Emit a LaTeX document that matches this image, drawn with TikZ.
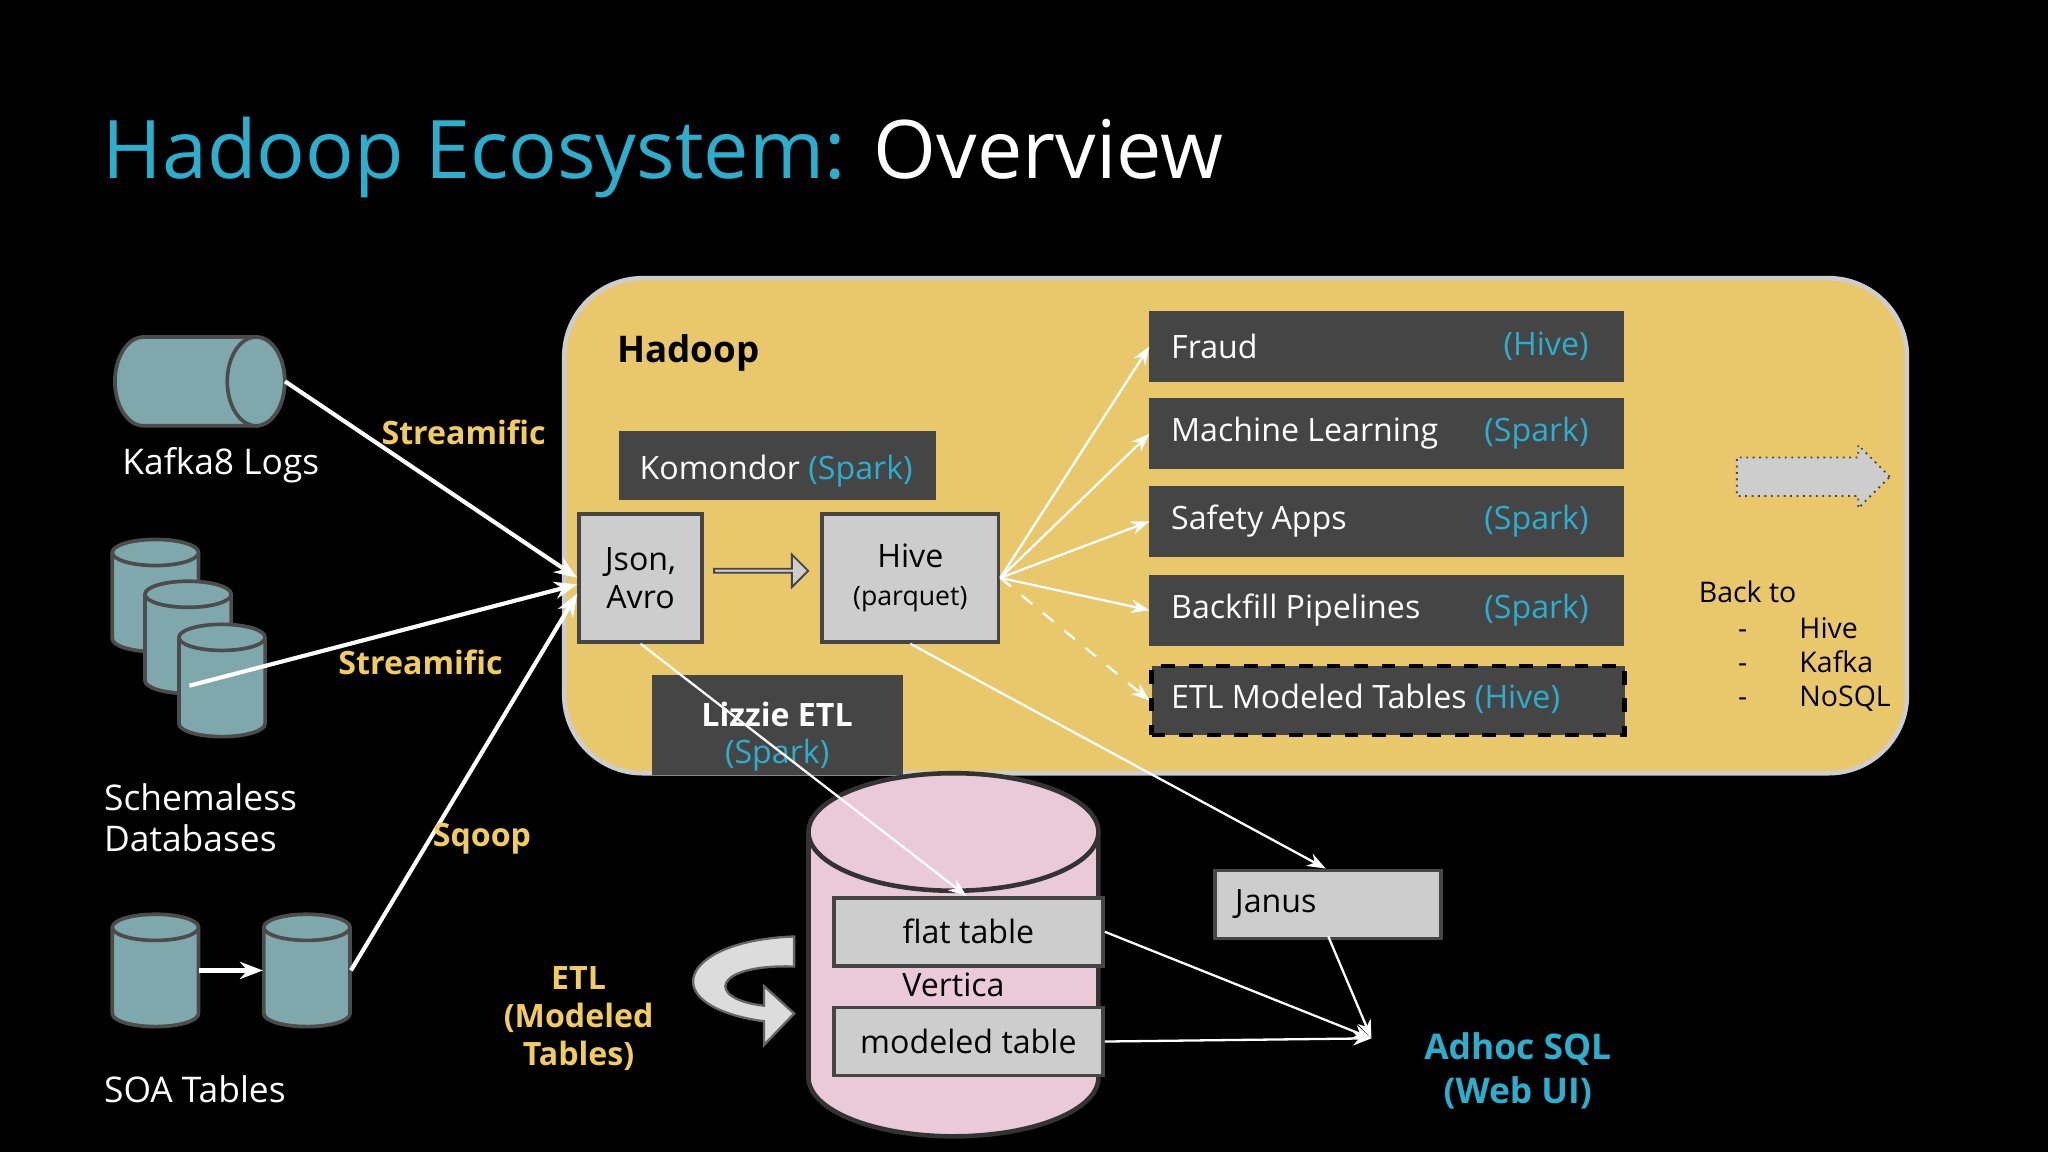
\documentclass[tikz,border=0pt]{standalone}
\usepackage{fontspec}
\setmainfont{Open Sans}
\usetikzlibrary{shapes.arrows,arrows.meta}
\definecolor{cyanT}{HTML}{2AAFCF}
\definecolor{hadoopY}{HTML}{E9C76B}
\definecolor{dgray}{HTML}{454545}
\definecolor{lgray}{HTML}{CDCDCD}
\definecolor{tealC}{HTML}{7FA8AC}
\definecolor{pinkV}{HTML}{EACAD9}
\definecolor{yel}{HTML}{F2CD5C}
\tikzset{
  x=0.01cm,y=-0.01cm,
  dbox/.style={fill=dgray,draw=dgray,text=white,font=\fontsize{7}{8}\selectfont,anchor=north west,inner sep=0pt},
  lbox/.style={fill=lgray,draw=dgray,line width=0.8pt,font=\fontsize{7}{8.3}\selectfont,anchor=north west,inner sep=0pt,align=center},
  cylf/.style={fill=tealC,draw=black!70,line width=0.8pt},
  lbl/.style={text=yel,font=\bfseries\fontsize{7}{8.3}\selectfont},
  wtxt/.style={text=white,font=\fontsize{7.7}{9}\selectfont,anchor=west,align=left},
  arr/.style={white,line width=0.9pt,-{Stealth[length=5pt]}},
  tarr/.style={white,line width=0.5pt,-{Stealth[length=4pt]}},
}
% vertical cylinder: name, centre x, centre y
\newcommand\vcyl[3]{%
  \draw[cylf] (#2-33,#3-33) -- (#2-33,#3+33) arc[start angle=180,end angle=0,x radius=33,y radius=10] -- (#2+33,#3-33);
  \draw[cylf] (#2,#3-33) ellipse[x radius=33,y radius=10];
  \node[inner sep=0pt,minimum width=0.66cm,minimum height=0.86cm] (#1) at (#2,#3) {};}
\begin{document}
\begin{tikzpicture}
\fill[black] (0,0) rectangle (1568,882);
\useasboundingbox (0,0) rectangle (1568,882);
\node[anchor=base west,inner sep=0pt,font=\fontsize{17.6}{20}\selectfont] (title) at (78,137) {\textcolor{cyanT}{Hadoop Ecosystem:} \textcolor{white}{Overview}};
% Hadoop area
\draw[fill=hadoopY,draw=lgray,line width=1pt,rounded corners=0.6cm] (432,213) rectangle (1460,592);
\node[anchor=west,inner sep=0pt,font=\bfseries\fontsize{8}{10}\selectfont] (hadoop) at (472,270) {Hadoop};
\node[dbox,minimum width=2.41cm,minimum height=0.51cm] (komo) at (474,330) {};
\node[anchor=west,inner sep=0pt,text=white,font=\fontsize{7}{8}\selectfont] at (489,361) {Komondor \textcolor{cyanT}{(Spark)}};
\node[lbox,minimum width=0.94cm,minimum height=0.98cm] (json) at (442,392) {Json,\\Avro};
\node[lbox,minimum width=1.35cm,minimum height=0.98cm] (hive) at (628,392) {Hive\\{\fontsize{5.8}{7}\selectfont(parquet)}};
\node[single arrow,draw=dgray,fill=lgray,minimum height=0.72cm,minimum width=0.25cm,single arrow head extend=0.05cm,inner sep=0pt] (jh) at (582,437) {};
% right boxes
\foreach \n/\t/\s/\y in {fraud/Fraud/(Hive)/238,ml/Machine Learning/(Spark)/305,safe/Safety Apps/(Spark)/372,back/Backfill Pipelines/(Spark)/440}{
  \node[dbox,minimum width=3.62cm,minimum height=0.53cm] (\n) at (880,\y) {};
  \node[anchor=west,inner sep=0pt,text=white,font=\fontsize{7}{8}\selectfont] at (896,\y+27) {\t};
  \node[anchor=east,inner sep=0pt,text=cyanT,font=\fontsize{7}{8}\selectfont] at (1217,\y+27) {\s};
}
\node[dbox,draw=black,dashed,line width=1pt,minimum width=3.62cm,minimum height=0.53cm] (etlm) at (880,508) {};
\node[anchor=west,inner sep=0pt,text=white,font=\fontsize{7}{8}\selectfont] at (896,535) {ETL Modeled Tables \textcolor{cyanT}{(Hive)}};
\foreach \n in {fraud,ml,safe,back} \draw[tarr] (hive.east) -- (\n.west);
\draw[tarr,dashed] (hive.east) -- (etlm.west);
\node[single arrow,draw=dgray,densely dotted,fill=lgray,minimum height=1.17cm,minimum width=0.47cm,single arrow head extend=0.095cm,single arrow head indent=0cm,inner sep=0.14cm] (big) at (1381,365) {};
\node[anchor=west,inner sep=0pt,font=\fontsize{6.2}{7}\selectfont] (backto) at (1300,453) {Back to};
\node[anchor=north west,inner sep=0pt,font=\fontsize{6.2}{7.4}\selectfont] (list) at (1330,470) {\begin{tabular}{@{}l@{\hspace{0.4cm}}l@{}}-&Hive\\-&Kafka\\-&NoSQL\end{tabular}};
% Lizzie
\node[dbox,minimum width=1.91cm,minimum height=0.75cm] (lizzie) at (499,517) {};
\node[text=white,font=\bfseries\fontsize{7}{8}\selectfont] at (595,547) {Lizzie ETL};
\node[text=cyanT,font=\fontsize{7}{8}\selectfont] at (595,578) {(Spark)};
% Vertica
\draw[fill=pinkV,draw=black!80,line width=1pt] (619,637) -- (619,825) arc[start angle=180,end angle=0,x radius=111,y radius=45] -- (841,637);
\draw[fill=pinkV,draw=black!80,line width=1pt] (730,637) ellipse[x radius=111,y radius=45];
\node[lbox,minimum width=2.06cm,minimum height=0.52cm] (flat) at (637,686) {flat table};
\node[lbox,minimum width=2.06cm,minimum height=0.52cm] (mod) at (637,770) {modeled table};
\node[font=\fontsize{7}{8}\selectfont] (vert) at (730,754) {Vertica};
\node[lbox,minimum width=1.73cm,minimum height=0.52cm] (janus) at (929,665) {};
\node[anchor=west,inner sep=0pt,font=\fontsize{7}{8}\selectfont] at (945,692) {Janus};
\node[text=cyanT,font=\bfseries\fontsize{7.7}{9.5}\selectfont,align=center] (adhoc) at (1162,820) {Adhoc SQL\\(Web UI)};
\coordinate (ah) at (1050,795);
\coordinate (jb) at (1017,717);
\draw[tarr] (flat.east) -- (ah);
\draw[tarr] (mod.east) -- (ah);
\draw[tarr] (jb) -- (ah);
\draw[tarr] (hive.south) -- (1015,665);
\draw[tarr] (json.south) -- (740,686);
% curved arrow ETL
\draw[draw=black!60,fill=lgray!70,line width=0.5pt] (608,717) .. controls (520,720) and (500,770) .. (585,782) -- (585,800) -- (608,776) -- (585,755) -- (585,770) .. controls (540,765) and (545,738) .. (608,740) -- cycle;
\node[lbl,align=center] (etl) at (443,780) {ETL\\(Modeled\\Tables)};
% left sources
\draw[cylf] (110,258) -- (196,258) arc[start angle=-90,end angle=90,x radius=22,y radius=34] -- (110,326) arc[start angle=90,end angle=270,x radius=22,y radius=34] -- cycle;
\draw[cylf] (196,292) ellipse[x radius=22,y radius=34];
\node[inner sep=0pt,minimum width=1.31cm,minimum height=0.68cm] (kafka) at (152,292) {};
\node[wtxt,inner sep=0pt] at (93,356) {Kafka8 Logs};
\vcyl{s1}{119}{456}
\vcyl{s2}{144}{488}
\vcyl{s3}{170}{521}
\node[wtxt,inner sep=0pt] at (79,626) {Schemaless\\Databases};
\vcyl{o1}{119}{743}
\vcyl{o2}{235}{743}
\draw[arr] (o1.east) -- (o2.west);
\node[wtxt,inner sep=0pt] at (79,834) {SOA Tables};
\coordinate (sch) at (145,525);
\draw[arr] (kafka.east) -- (json.west);
\draw[arr] (sch) -- ([yshift=-0.05cm]json.west);
\draw[arr] (o2.east) -- ([yshift=-0.12cm]json.west);
\node[lbl] at (355,331) {Streamific};
\node[lbl] at (322,507) {Streamific};
\node[lbl] at (369,642) {Sqoop};
\end{tikzpicture}
\end{document}
